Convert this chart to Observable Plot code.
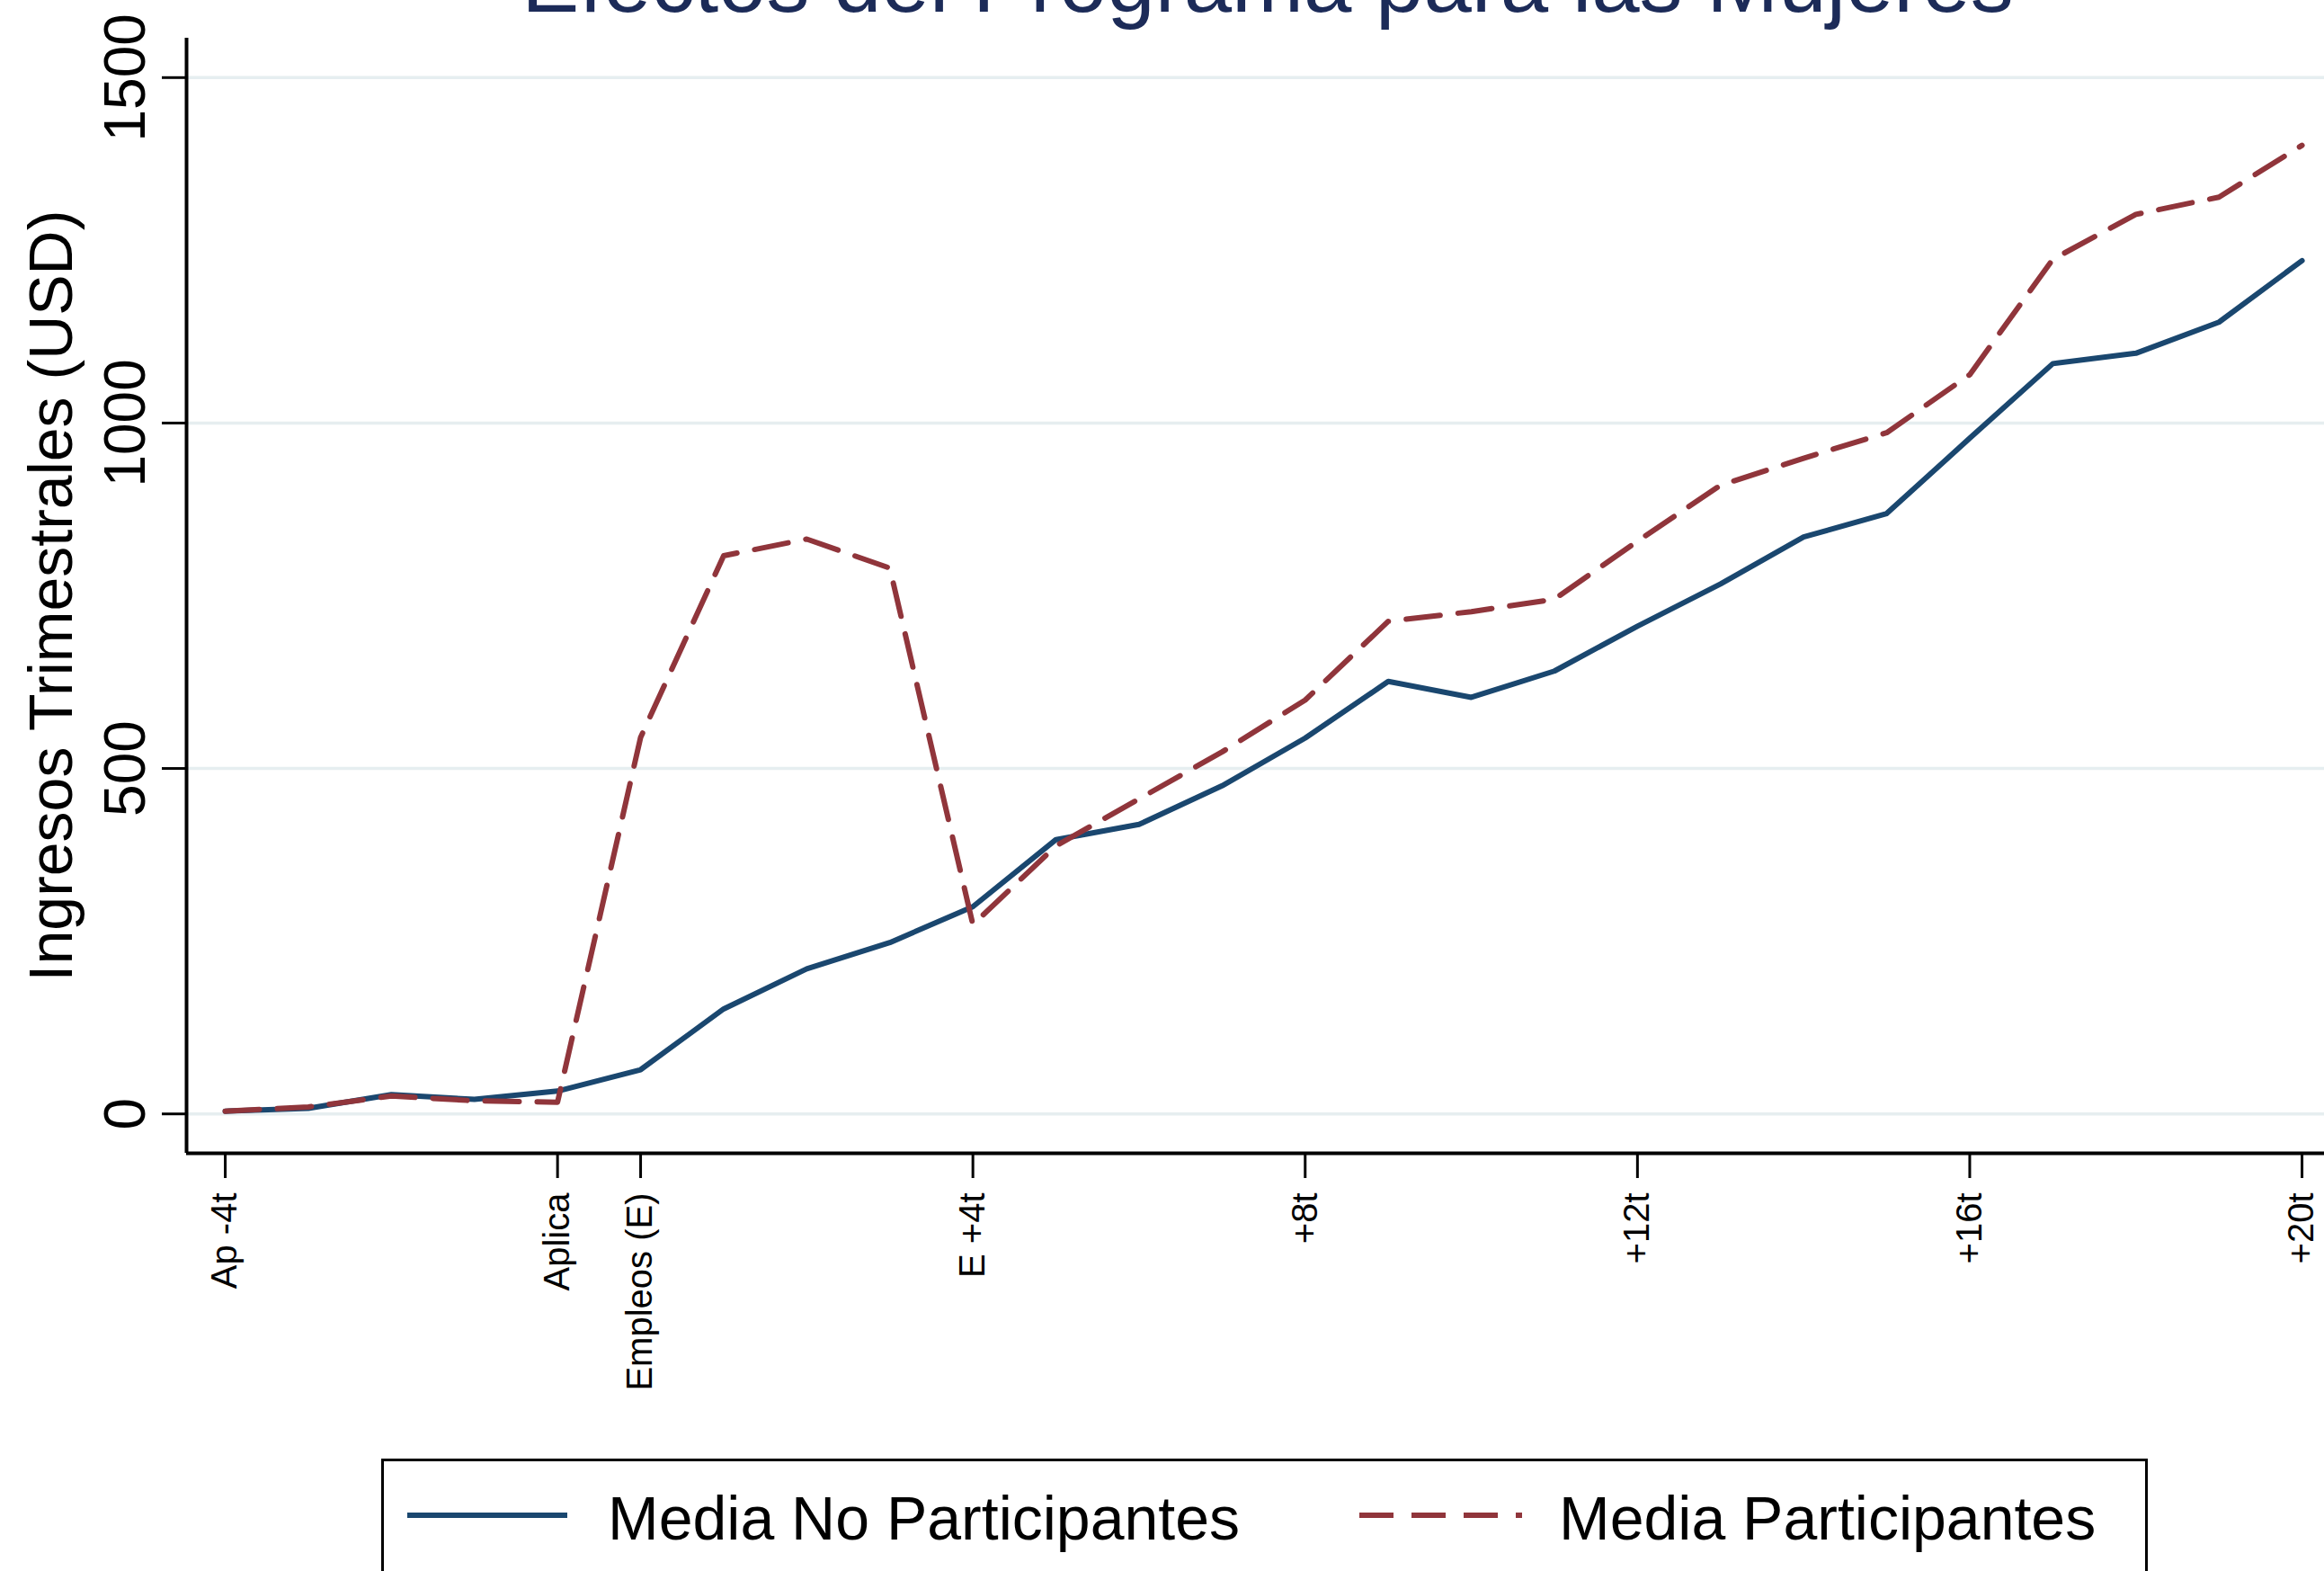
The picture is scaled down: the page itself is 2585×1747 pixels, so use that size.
<!DOCTYPE html>
<html>
<head>
<meta charset="utf-8">
<script src="https://cdn.jsdelivr.net/npm/d3@7"></script>
<script src="https://cdn.jsdelivr.net/npm/@observablehq/plot@0.6"></script>
<style>
html, body { margin: 0; padding: 0; background: #fff; }
body { width: 2585px; height: 1747px; overflow: hidden; position: relative; font-family: "Liberation Sans", Arial, sans-serif; }
#title { position: absolute; left: 0; top: -68px; width: 2820px; text-align: center; font-size: 96px; line-height: 96px; color: #1c2b58; white-space: nowrap; }
#chart { position: absolute; left: 0; top: 0; }
#legend { position: absolute; left: 424px; top: 1622px; width: 1965px; height: 220px; border: 3px solid #000; box-sizing: border-box; }
.lg-text { position: absolute; font-size: 68px; line-height: 68px; color: #000; white-space: nowrap; }
.lg-swatch { position: absolute; }
</style>
</head>
<body>
<div id="chart"></div>
<div id="title">Efectos del Programa para las Mujeres</div>
<div id="legend"></div>
<svg class="lg-swatch" style="left:453px; top:1675px;" width="180" height="20"><line x1="0" y1="10" x2="178" y2="10" stroke="#1a476f" stroke-width="6"/></svg>
<div class="lg-text" style="left:676px; top:1654px;">Media No Participantes</div>
<svg class="lg-swatch" style="left:1512px; top:1675px;" width="185" height="20"><line x1="0" y1="10" x2="181" y2="10" stroke="#90353b" stroke-width="6" stroke-dasharray="38,20"/></svg>
<div class="lg-text" style="left:1734px; top:1654px;">Media Participantes</div>
<script>
// Quarter index: 0 = Ap -4t, 4 = Aplica, 5 = Empleos (E), 9 = E +4t ... 25 = +20t
const quarters = [0,1,2,3,4,5,6,7,8,9,10,11,12,13,14,15,16,17,18,19,20,21,22,23,24,25];
const mediaNoParticipantes = [4, 8, 28, 21, 33, 64, 152, 210, 248, 300, 397, 419, 475, 544, 626, 603, 641, 706, 767, 835, 869, 978, 1086, 1101, 1146, 1235];
const mediaParticipantes = [4, 10, 26, 19, 17, 545, 808, 832, 790, 274, 388, 456, 524, 599, 713, 727, 745, 829, 910, 949, 986, 1070, 1237, 1302, 1327, 1402];
const xTickPositions = [0, 4, 5, 9, 13, 17, 21, 25];
const xTickLabels = ["Ap -4t", "Aplica", "Empleos (E)", "E +4t", "+8t", "+12t", "+16t", "+20t"];
const yTicks = [0, 500, 1000, 1500];
const seriesNames = ["Media No Participantes", "Media Participantes"];

const xMin = -0.466, xMax = 25.27;
const yMin = -57, yMax = 1557;

const noPart = quarters.map((q, i) => ({q, v: mediaNoParticipantes[i]}));
const part = quarters.map((q, i) => ({q, v: mediaParticipantes[i]}));
const labelMap = new Map(xTickPositions.map((p, i) => [p, xTickLabels[i]]));

const chart = Plot.plot({
  width: 2585,
  height: 1600,
  marginLeft: 207,
  marginRight: 0,
  marginTop: 42,
  marginBottom: 318,
  x: {domain: [xMin, xMax], label: null},
  y: {domain: [yMin, yMax], label: null},
  style: {fontFamily: '"Liberation Sans", Arial, sans-serif', background: "transparent", color: "#000"},
  marks: [
    Plot.ruleY(yTicks, {stroke: "#e6eef0", strokeWidth: 3.5}),
    Plot.line(noPart, {x: "q", y: "v", stroke: "#1a476f", strokeWidth: 6, strokeLinejoin: "round"}),
    Plot.line(part, {x: "q", y: "v", stroke: "#90353b", strokeWidth: 6, strokeDasharray: "38,20", strokeLinejoin: "round"}),
    Plot.ruleX([xMin], {stroke: "#000", strokeWidth: 4}),
    Plot.ruleY([yMin], {stroke: "#000", strokeWidth: 4}),
    Plot.axisY(yTicks, {anchor: "left", tickSize: 27, tickPadding: 20, tickRotate: -90, fontSize: 64, strokeWidth: 3, label: null, tickFormat: d => String(d)}),
    Plot.axisX(xTickPositions, {anchor: "bottom", tickSize: 28, tickPadding: 16, tickRotate: -90, fontSize: 40, strokeWidth: 3, label: null, tickFormat: d => labelMap.get(d)}),
    Plot.text(["Ingresos Trimestrales (USD)"], {frameAnchor: "left", rotate: -90, dx: -128, fontSize: 68, textAnchor: "middle", lineAnchor: "bottom"})
  ]
});
document.getElementById("chart").appendChild(chart);
</script>
</body>
</html>
